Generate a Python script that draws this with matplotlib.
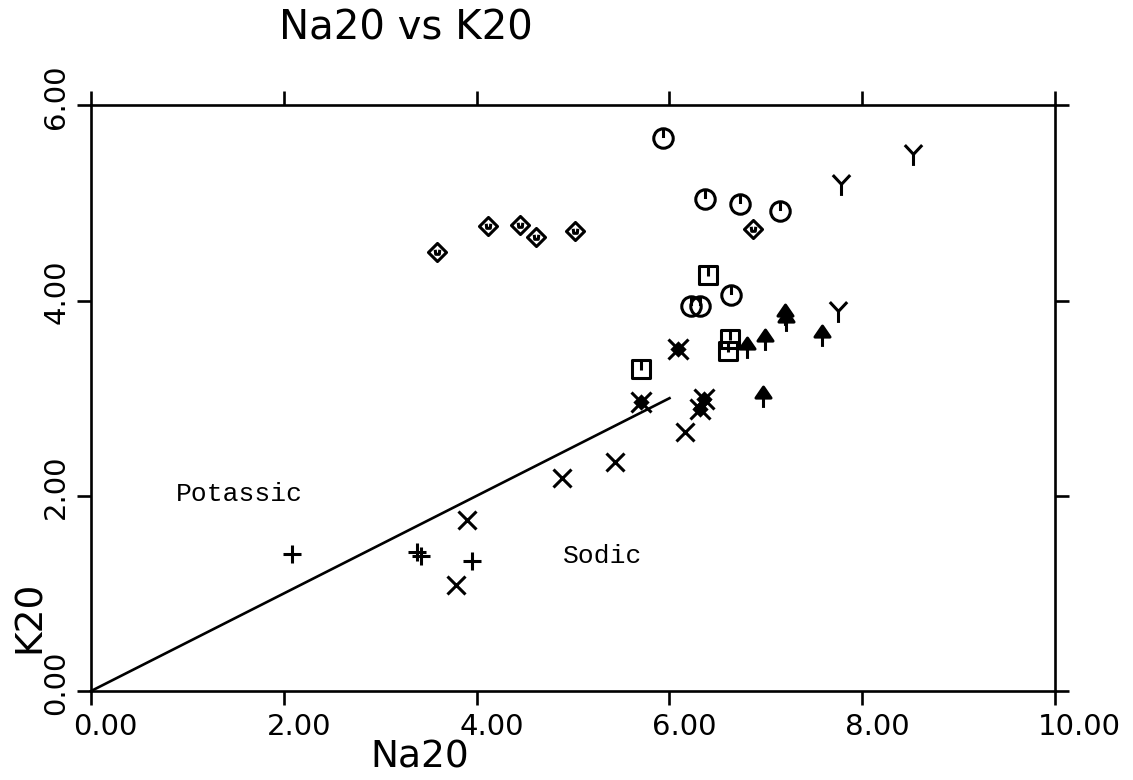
import matplotlib
matplotlib.use("Agg")
import matplotlib.pyplot as plt
from matplotlib.path import Path
import numpy as np

# ---------------- data ----------------
circle_na = [5.93, 6.37, 6.73, 7.15, 6.64, 6.22, 6.32]
circle_k = [5.66, 5.04, 4.99, 4.92, 4.06, 3.94, 3.94]
diamond_na = [3.59, 4.12, 4.45, 4.62, 5.02, 6.87]
diamond_k = [4.50, 4.76, 4.77, 4.65, 4.71, 4.73]
square_na = [6.40, 6.63, 6.61, 5.70]
square_k = [4.26, 3.61, 3.48, 3.30]
boldx_na = [6.09, 5.70, 6.36, 6.32]
boldx_k = [3.50, 2.96, 2.99, 2.89]
x_na = [6.16, 5.44, 4.88, 3.90, 3.79]
x_k = [2.65, 2.35, 2.18, 1.75, 1.09]
plus_na = [2.08, 3.38, 3.42, 3.95]
plus_k = [1.40, 1.42, 1.38, 1.33]
arrow_na = [6.80, 6.99, 7.20, 7.21, 7.58, 6.97]
arrow_k = [3.51, 3.60, 3.85, 3.79, 3.64, 3.01]
y_na = [8.53, 7.78, 7.75]
y_k = [5.49, 5.18, 3.88]
line_na = [0.0, 6.0]
line_k = [0.0, 3.0]

xticks = [0, 2, 4, 6, 8, 10]
xtick_labels = ["0.00", "2.00", "4.00", "6.00", "8.00", "10.00"]
yticks = [0, 2, 4, 6]
ytick_labels = ["0.00", "2.00", "4.00", "6.00"]
title = "Na20 vs K20"
xlabel = "Na20"
ylabel = "K20"
region_labels = [("Potassic", 0.88, 2.02), ("Sodic", 4.9, 1.38)]

# ---------------- custom markers ----------------
def compound(*paths):
    return Path.make_compound_path(*paths)

circ = Path.unit_circle()
m_circle = compound(circ, Path([(0, 1.0), (0, 0.05)], [Path.MOVETO, Path.LINETO]))
m_diamond = compound(
    Path([(0, 1), (1, 0), (0, -1), (-1, 0), (0, 1)],
         [Path.MOVETO, Path.LINETO, Path.LINETO, Path.LINETO, Path.CLOSEPOLY]),
    Path([(-0.25, 0.3), (-0.2, -0.2), (0.2, -0.2), (0.25, 0.3)],
         [Path.MOVETO, Path.LINETO, Path.LINETO, Path.LINETO]))
m_square = compound(
    Path([(-1, -1), (1, -1), (1, 1), (-1, 1), (-1, -1)],
         [Path.MOVETO, Path.LINETO, Path.LINETO, Path.LINETO, Path.CLOSEPOLY]),
    Path([(0, 1), (0, -0.1)], [Path.MOVETO, Path.LINETO]))
m_arrow = compound(
    Path([(-0.65, -0.05), (0, 0.9), (0.65, -0.05), (-0.65, -0.05)],
         [Path.MOVETO, Path.LINETO, Path.LINETO, Path.CLOSEPOLY]),
    Path([(0, 0), (0, -0.9)], [Path.MOVETO, Path.LINETO]))
m_y = Path([(0, 0.1), (-0.75, 0.9), (0, 0.1), (0.75, 0.9), (0, 0.1), (0, -0.9)],
           [Path.MOVETO, Path.LINETO, Path.MOVETO, Path.LINETO, Path.MOVETO, Path.LINETO])

# ---------------- figure ----------------
fig = plt.figure(figsize=(11.33, 7.80), dpi=100)
ax = fig.add_axes([0.0803, 0.114, 0.851, 0.751])
ax.set_xlim(0, 10)
ax.set_ylim(0, 6)

lw = 1.9
for s in ax.spines.values():
    s.set_linewidth(lw)

ax.set_xticks(xticks)
ax.set_yticks(yticks)
ax.tick_params(axis="both", which="major", direction="out", length=10, width=lw,
               top=True, right=True, bottom=True, left=True,
               labelbottom=False, labelleft=False, labeltop=False, labelright=False)

# boundary line
ax.plot(line_na, line_k, color="black", lw=1.9, clip_on=False)

mew = 2.2
kw = dict(linestyle="none", color="black", markeredgewidth=mew, clip_on=False)
ax.plot(circle_na, circle_k, marker=m_circle, markersize=14, markerfacecolor="none", **kw)
ax.plot(diamond_na, diamond_k, marker=m_diamond, markersize=13, markerfacecolor="none", **kw)
ax.plot(square_na, square_k, marker=m_square, markersize=12.5, markerfacecolor="none", **kw)
ax.plot(x_na, x_k, marker="x", markersize=13, **kw)
ax.plot(boldx_na, boldx_k, marker="x", markersize=14, **kw)
ax.plot(boldx_na, boldx_k, marker="D", markersize=6, markerfacecolor="black", **kw)
ax.plot(plus_na, plus_k, marker="+", markersize=13, **kw)
ax.plot(arrow_na, arrow_k, marker=m_arrow, markersize=15, markerfacecolor="black", **kw)
ax.plot(y_na, y_k, marker=m_y, markersize=15, markerfacecolor="none", **kw)

# region text
for txt, xx, yy in region_labels:
    ax.text(xx, yy, txt, fontsize=19, family="Liberation Mono", ha="left", va="center",
            color="black")

# tick labels (drawn manually: left-aligned, shifted)
for v, lab in zip(xticks, xtick_labels):
    ax.annotate(lab, xy=(v, 0), xycoords=("data", "axes fraction"),
                xytext=(-12.5, -16), textcoords="offset points",
                ha="left", va="top", fontsize=21, family="DejaVu Sans")
for v, lab in zip(yticks, ytick_labels):
    ax.annotate(lab, xy=(0, v), xycoords=("axes fraction", "data"),
                xytext=(-15, -17), textcoords="offset points",
                ha="right", va="bottom", rotation=90, fontsize=21, family="DejaVu Sans")

fig.text(406 / 1133, 1 - 28 / 780, title, ha="center", va="center", fontsize=29)
fig.text(420 / 1133, 1 - 757 / 780, xlabel, ha="center", va="center", fontsize=27)
fig.text(30 / 1133, 1 - 617 / 780, ylabel, ha="center", va="center", fontsize=27, rotation=90)

fig.savefig("out.png", dpi=100)
